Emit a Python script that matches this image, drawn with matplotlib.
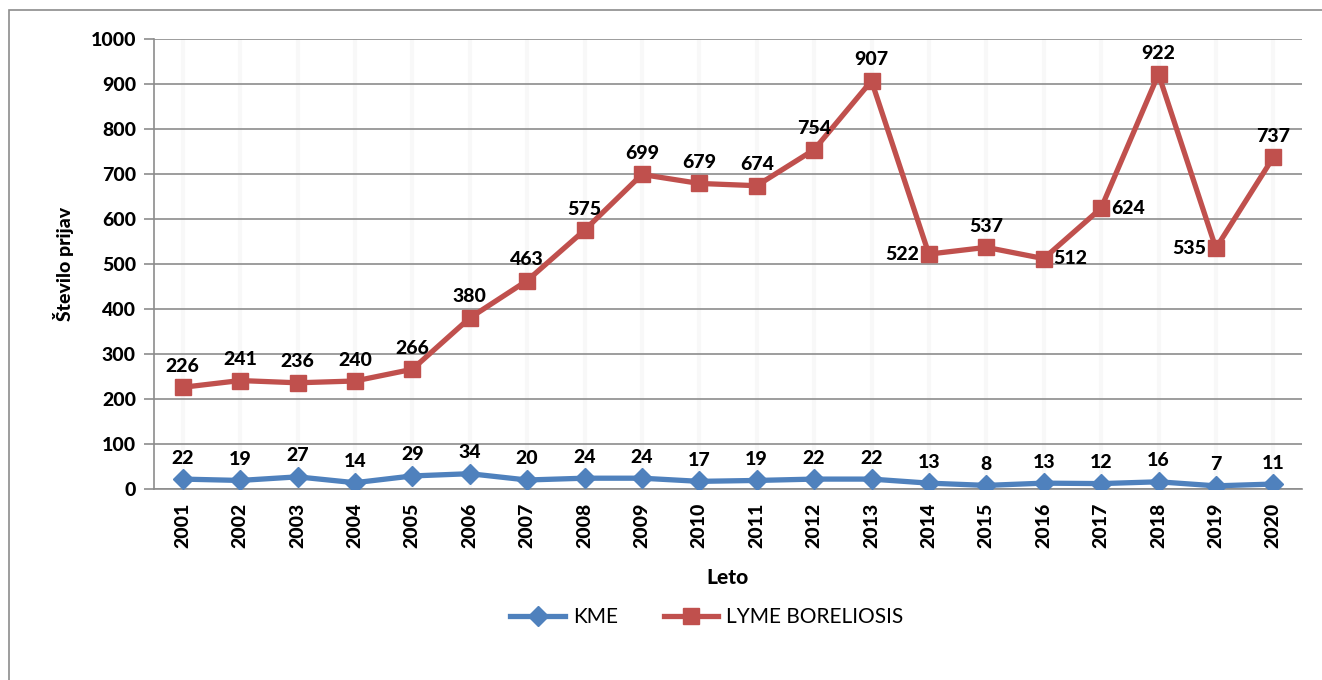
import numpy as np
import matplotlib
matplotlib.use("Agg")
import matplotlib.pyplot as plt
from matplotlib.patches import Rectangle

plt.rcParams['font.family'] = ['Lato', 'DejaVu Sans']

years = ['2001', '2002', '2003', '2004', '2005', '2006', '2007', '2008', '2009', '2010',
         '2011', '2012', '2013', '2014', '2015', '2016', '2017', '2018', '2019', '2020']
kme = [22, 19, 27, 14, 29, 34, 20, 24, 24, 17, 19, 22, 22, 13, 8, 13, 12, 16, 7, 11]
lyme = [226, 241, 236, 240, 266, 380, 463, 575, 699, 679, 674, 754, 907, 522, 537, 512, 624, 922, 535, 737]

# where the lyme labels sit relative to the point
lyme_pos = ['up'] * 20
lyme_pos[13] = 'left'
lyme_pos[15] = 'right'
lyme_pos[16] = 'right'
lyme_pos[18] = 'left'

blue = '#4F81BD'
red = '#C0504D'
W = 900

fig = plt.figure(figsize=(13.22, 6.8), dpi=100)
ax = fig.add_axes([154 / 1322, 1 - 489 / 680, (1302 - 154) / 1322, (489 - 39) / 680])

# figure border
fig.patches.append(Rectangle((9 / 1322, -0.01), 1.0, 1 - 10 / 680 + 0.01, transform=fig.transFigure,
                             fill=False, edgecolor='#8c8c8c', linewidth=1.2))

x = np.arange(len(years))
ax.plot(x, kme, color=blue, linewidth=3.8, marker='D', markersize=10, markeredgecolor=blue,
        label='KME', zorder=3)
ax.plot(x, lyme, color=red, linewidth=3.8, marker='s', markersize=12, markeredgecolor=red,
        label='LYME BORELIOSIS', zorder=3)

lbl = dict(fontsize=14, fontweight=W, color='black')
for i, v in enumerate(kme):
    ax.annotate(str(v), (i, v), xytext=(0, 9), textcoords='offset points', ha='center', va='bottom', **lbl)
for i, v in enumerate(lyme):
    p = lyme_pos[i]
    if p == 'up':
        ax.annotate(str(v), (i, v), xytext=(0, 9), textcoords='offset points', ha='center', va='bottom', **lbl)
    elif p == 'left':
        ax.annotate(str(v), (i, v), xytext=(-7, 0), textcoords='offset points', ha='right', va='center', **lbl)
    else:
        ax.annotate(str(v), (i, v), xytext=(7, 0), textcoords='offset points', ha='left', va='center', **lbl)

ax.set_xlim(-0.5, len(years) - 0.5)
ax.set_ylim(0, 1000)
ax.set_yticks(np.arange(0, 1001, 100))
ax.set_xticks(x)
ax.set_xticklabels(years, rotation=90, fontsize=14, fontweight=W)
for t in ax.get_yticklabels():
    t.set_fontsize(14)
    t.set_fontweight(W)

ax.grid(axis='y', color='#8c8c8c', linewidth=1.2)
for xi in x:
    ax.axvline(xi, color='#f8f8f8', linewidth=3, zorder=0)
ax.set_axisbelow(True)

for s in ['top', 'right']:
    ax.spines[s].set_visible(False)
ax.spines['left'].set_color('#8c8c8c')
ax.spines['bottom'].set_color('#8c8c8c')
ax.spines['left'].set_linewidth(1.2)
ax.spines['bottom'].set_linewidth(1.2)
ax.tick_params(axis='y', length=7, color='#8c8c8c', width=1.2, pad=6)
ax.tick_params(axis='x', length=0, pad=10)

ax.set_ylabel('Število prijav', fontsize=14, fontweight=W, labelpad=12)
ax.set_xlabel('Leto', fontsize=15, fontweight=W, labelpad=14)

ax.legend(loc='center', bbox_to_anchor=(0.5 + (707 - 728) / 1148, -(617 - 489) / 450), ncol=2,
          frameon=False, fontsize=15, handlelength=2.6, handletextpad=0.4, columnspacing=2.2)

fig.savefig('out.png', dpi=100)
